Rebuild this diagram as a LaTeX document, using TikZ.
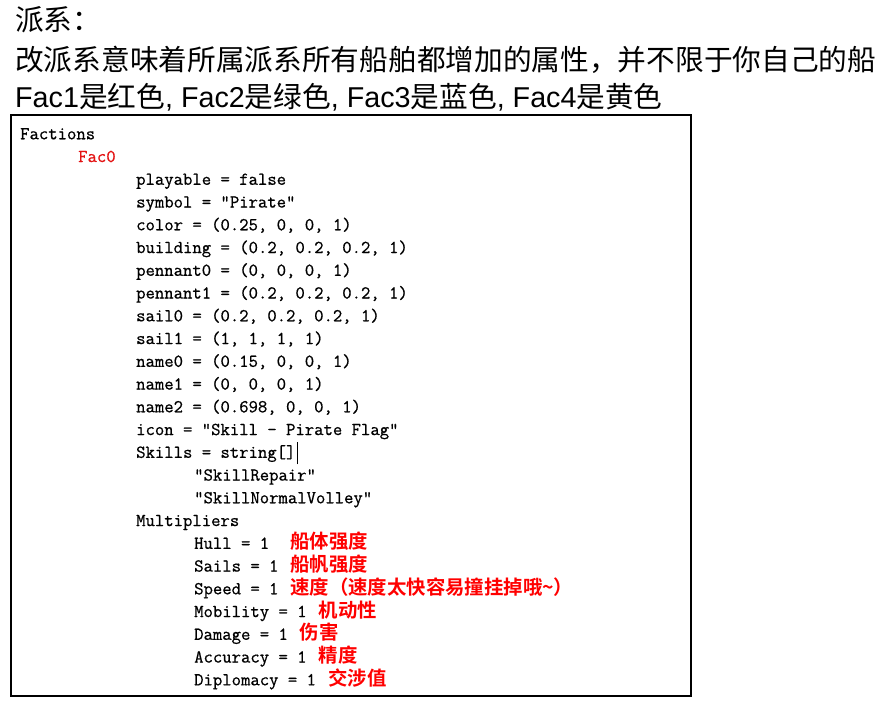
\documentclass[tikz,border=0pt]{standalone}
\usepackage{fontspec}
\setmainfont{Liberation Sans}
\newfontfamily\cjk{Noto Sans CJK SC}[BoldFont={Noto Sans CJK SC Bold}]
\newfontfamily\codeff{Latin Modern Mono}[FakeBold=0.7]
\newcommand\codefont{\codeff\frenchspacing\fontsize{18.19}{22}\selectfont}
\newcommand\notefont{\cjk\bfseries\fontsize{19.4}{22}\selectfont}
\newcommand\headfont{\fontsize{28.7}{32}\selectfont}
\definecolor{facred}{RGB}{228,20,20}
\definecolor{notered}{RGB}{255,0,0}
\begin{document}
\begin{tikzpicture}[x=1pt,y=-1pt,
  code/.style={anchor=base west, inner sep=0pt, font=\codefont},
  note/.style={anchor=base west, inner sep=0pt, font=\notefont, text=notered},
  head/.style={anchor=base west, inner sep=0pt, font=\headfont},
  frame/.style={draw, line width=1.4pt}]
\useasboundingbox (0,0) rectangle (891,705);
\fill[white] (0,0) rectangle (891,705);
% heading
\node[head] (t1) at (15,30) {\cjk 派系：};
\node[head] (t2) at (15,70) {\cjk 改派系意味着所属派系所有船舶都增加的属性，并不限于你自己的船};
\node[head] (t3) at (15,107) {Fac1{\cjk 是红色}, Fac2{\cjk 是绿色}, Fac3{\cjk 是蓝色}, Fac4{\cjk 是黄色}};
% frame
\draw[frame] (11,115) rectangle (691,696);
% code lines
\def\lh{22.75}
\node[code] (l0) at (20,139.3) {Factions};
\node[code, text=facred] (l1) at (78,139.3+1*\lh) {Fac0};
\node[code] (l2) at (136,139.3+2*\lh) {playable = false};
\node[code] (l3) at (136,139.3+3*\lh) {symbol = "Pirate"};
\node[code] (l4) at (136,139.3+4*\lh) {color = (0.25, 0, 0, 1)};
\node[code] (l5) at (136,139.3+5*\lh) {building = (0.2, 0.2, 0.2, 1)};
\node[code] (l6) at (136,139.3+6*\lh) {pennant0 = (0, 0, 0, 1)};
\node[code] (l7) at (136,139.3+7*\lh) {pennant1 = (0.2, 0.2, 0.2, 1)};
\node[code] (l8) at (136,139.3+8*\lh) {sail0 = (0.2, 0.2, 0.2, 1)};
\node[code] (l9) at (136,139.3+9*\lh) {sail1 = (1, 1, 1, 1)};
\node[code] (l10) at (136,139.3+10*\lh) {name0 = (0.15, 0, 0, 1)};
\node[code] (l11) at (136,139.3+11*\lh) {name1 = (0, 0, 0, 1)};
\node[code] (l12) at (136,139.3+12*\lh) {name2 = (0.698, 0, 0, 1)};
\node[code] (l13) at (136,139.3+13*\lh) {icon = "Skill - Pirate Flag"};
\node[code] (l14) at (136,139.3+14*\lh) {Skills = string[]};
\node[code] (l15) at (194,139.3+15*\lh) {"SkillRepair"};
\node[code] (l16) at (194,139.3+16*\lh) {"SkillNormalVolley"};
\node[code] (l17) at (136,139.3+17*\lh) {Multipliers};
\node[code] (l18) at (194,139.3+18*\lh) {Hull = 1};
\node[code] (l19) at (194,139.3+19*\lh) {Sails = 1};
\node[code] (l20) at (194,139.3+20*\lh) {Speed = 1};
\node[code] (l21) at (194,139.3+21*\lh) {Mobility = 1};
\node[code] (l22) at (194,139.3+22*\lh) {Damage = 1};
\node[code] (l23) at (194,139.3+23*\lh) {Accuracy = 1};
\node[code] (l24) at (194,139.3+24*\lh) {Diplomacy = 1};
% text cursor
\draw[line width=1.2pt] (l14.base east) ++(1.6,6.5) -- ++(0,-22);
% red notes
\node[note] (n18) at (290,139.3+18*\lh) {船体强度};
\node[note] (n19) at (290,139.3+19*\lh) {船帆强度};
\node[note] (n20) at (290,139.3+20*\lh) {速度（速度太快容易撞挂掉哦\textasciitilde）};
\node[note] (n21) at (318.7,139.3+21*\lh) {机动性};
\node[note] (n22) at (299.5,139.3+22*\lh) {伤害};
\node[note] (n23) at (318.7,139.3+23*\lh) {精度};
\node[note] (n24) at (328.2,139.3+24*\lh) {交涉值};
\end{tikzpicture}
\end{document}
